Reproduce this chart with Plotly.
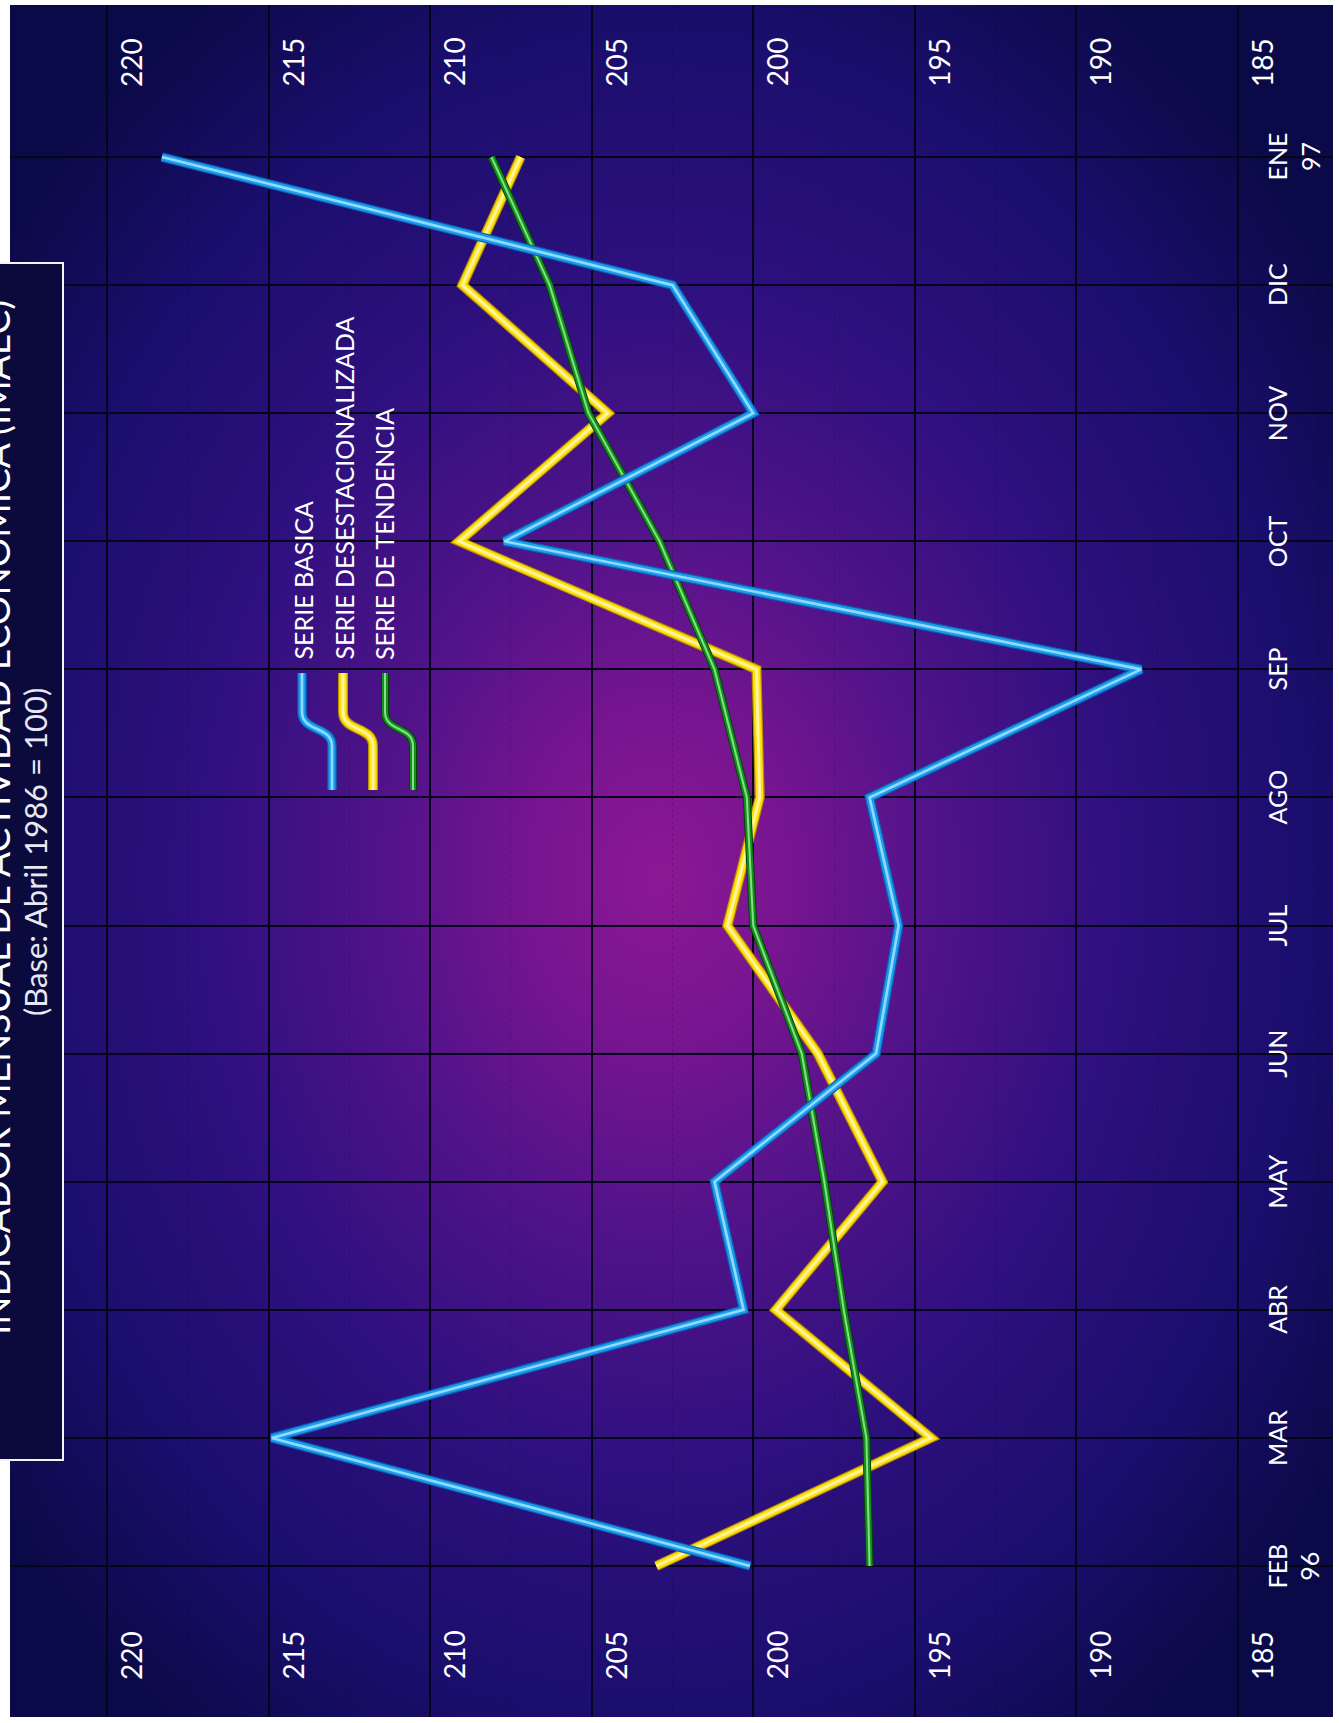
import base64
import plotly.graph_objects as go

# ---------------- data ----------------
months = ["FEB<br>96", "MAR", "ABR", "MAY", "JUN", "JUL", "AGO", "SEP", "OCT", "NOV", "DIC", "ENE<br>97"]
serie_basica = [200.1, 214.9, 200.3, 201.2, 196.2, 195.5, 196.4, 188.0, 207.7, 200.0, 202.5, 218.3]
serie_desest = [203.0, 194.5, 199.3, 196.0, 198.0, 200.8, 199.8, 199.9, 209.1, 204.5, 209.0, 207.2]
serie_tend = [196.4, 196.5, 197.2, 197.8, 198.5, 200.0, 200.2, 201.2, 202.9, 205.1, 206.3, 208.1]
value_ticks = [220, 215, 210, 205, 200, 195, 190, 185]
legend_names = ["SERIE BASICA", "SERIE DESESTACIONALIZADA", "SERIE DE TENDENCIA"]
title_text = "INDICADOR MENSUAL DE ACTIVIDAD ECONOMICA (IMAEC)"
subtitle_text = "(Base: Abril 1986 = 100)"

# ---------------- geometry helpers (pixel -> paper) ----------------
W_FIG, H_FIG = 1339, 1723
L, T, R, B = 10, 5, 6, 6
W = W_FIG - L - R
H = H_FIG - T - B


def px(x):
    return (x - L) / W


def py(y):
    return 1 - (y - T) / H


FONT = "Lato, 'Open Sans', sans-serif"

# styles: (layers of (width, color)) drawn bottom -> top
styles = {
    "desest": [(10, "#b99200"), (7.5, "#ffe00a"), (3, "#fff4a0")],
    "tend": [(8, "#04420a"), (6, "#15901e"), (2, "#84e084")],
    "basica": [(9.5, "#0a5fb4"), (7, "#1d9bef"), (2.6, "#8fdcff")],
}
series = [("desest", serie_desest), ("tend", serie_tend), ("basica", serie_basica)]

fig = go.Figure()
for key, vals in series:
    for w, c in styles[key]:
        fig.add_trace(go.Scatter(
            x=vals, y=months, mode="lines",
            line=dict(color=c, width=w, shape="linear"),
            hoverinfo="skip", showlegend=False,
        ))

# ---------------- background gradient (SVG data URI) ----------------
svg = f"""<svg xmlns='http://www.w3.org/2000/svg' width='{W}' height='{H}' viewBox='0 0 {W} {H}' preserveAspectRatio='none'>
<defs><radialGradient id='g' cx='0.49' cy='0.51' r='0.62' fx='0.49' fy='0.51'>
<stop offset='0' stop-color='#8c1894'/>
<stop offset='0.15' stop-color='#781590'/>
<stop offset='0.33' stop-color='#52138a'/>
<stop offset='0.56' stop-color='#2e107e'/>
<stop offset='0.8' stop-color='#1a0e6c'/>
<stop offset='1' stop-color='#0b0a48'/>
</radialGradient></defs>
<rect width='{W}' height='{H}' fill='url(#g)'/></svg>"""
src = "data:image/svg+xml;base64," + base64.b64encode(svg.encode()).decode()

fig.add_layout_image(dict(
    source=src, xref="paper", yref="paper", x=0, y=1, sizex=1, sizey=1,
    xanchor="left", yanchor="top", sizing="stretch", layer="below",
))

annotations = []
# value tick labels top & bottom
for v in value_ticks:
    for ypix in (62, 1655):
        annotations.append(dict(
            x=v, y=py(ypix), xref="x", yref="paper", text=str(v), showarrow=False,
            textangle=-90, xanchor="center", yanchor="middle", xshift=24,
            font=dict(family=FONT, size=28, color="white"),
        ))
# month labels on the right
for m in months:
    annotations.append(dict(
        x=px(1260), y=m, xref="paper", yref="y", text=m, showarrow=False,
        textangle=-90, xanchor="left", yanchor="middle",
        font=dict(family=FONT, size=25, color="white"),
    ))
# legend texts
leg_x = [302, 343, 384]
for name, lx in zip(legend_names, leg_x):
    annotations.append(dict(
        x=px(lx), y=py(662), xref="paper", yref="paper", text=name, showarrow=False,
        textangle=-90, xanchor="center", yanchor="bottom",
        font=dict(family=FONT, size=25, color="white"),
    ))
# title (partially cut at the page edge, as in the source) and subtitle
annotations.append(dict(
    x=px(-5), y=py(818), xref="paper", yref="paper", text=title_text, showarrow=False,
    textangle=-90, xanchor="center", yanchor="middle",
    font=dict(family=FONT, size=37, color="white"),
))
annotations.append(dict(
    x=px(35), y=py(852), xref="paper", yref="paper", text=subtitle_text, showarrow=False,
    textangle=-90, xanchor="center", yanchor="middle",
    font=dict(family=FONT, size=31, color="#e8e8f4"),
))

shapes = []
# title box
shapes.append(dict(
    type="rect", xref="paper", yref="paper",
    x0=px(-12), x1=px(63), y0=py(1460), y1=py(263),
    fillcolor="#0b0a3c", line=dict(color="#f4f4f4", width=2), layer="above",
))
# legend S-shaped symbols
leg_sym = [("basica", 302, 332), ("desest", 343, 373), ("tend", 385, 413)]
for key, xa, xb in leg_sym:
    ya, yb, yc, yd = 673, 712, 746, 790
    path = (f"M {px(xa)},{py(ya)} L {px(xa)},{py(yb)} "
            f"C {px(xa)},{py(yb + 20)} {px(xb)},{py(yc - 20)} {px(xb)},{py(yc)} "
            f"L {px(xb)},{py(yd)}")
    for w, c in styles[key]:
        shapes.append(dict(type="path", xref="paper", yref="paper", path=path,
                           line=dict(color=c, width=w), layer="above"))

grid_col = "#06051a"
fig.update_layout(
    width=W_FIG, height=H_FIG,
    margin=dict(l=L, r=R, t=T, b=B, pad=0),
    paper_bgcolor="white", plot_bgcolor="rgba(0,0,0,0)",
    showlegend=False,
    xaxis=dict(
        range=[223.0, 182.06], tickmode="linear", tick0=0, dtick=5,
        showticklabels=False, ticks="", showgrid=True, gridcolor=grid_col, gridwidth=2,
        zeroline=False, showline=False, fixedrange=True,
        minor=dict(showgrid=True, tickmode="linear", tick0=0, dtick=2.5,
                   gridcolor="rgba(0,0,0,0.18)", gridwidth=1, griddash="dot"),
    ),
    yaxis=dict(
        type="category", categoryorder="array", categoryarray=months,
        range=[-1.179, 12.187], showticklabels=False, ticks="",
        showgrid=True, gridcolor=grid_col, gridwidth=2,
        zeroline=False, showline=False, fixedrange=True,
    ),
    annotations=annotations,
    shapes=shapes,
)

fig.write_html("out.html", config={"displayModeBar": False},
               post_script="document.body.style.margin='0';")
